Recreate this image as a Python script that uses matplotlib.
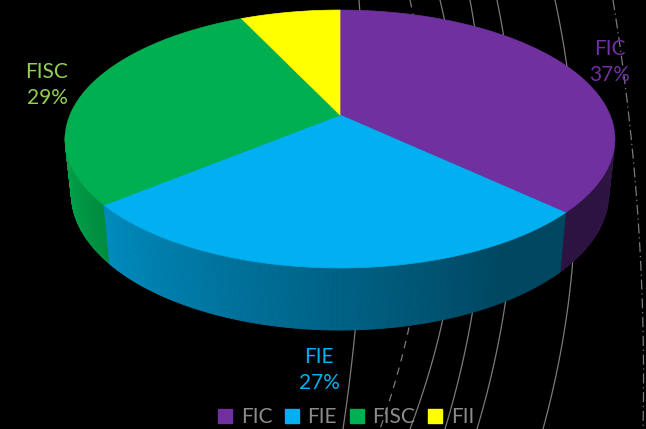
import numpy as np
import matplotlib
matplotlib.use('Agg')
import matplotlib.pyplot as plt
from matplotlib.collections import PolyCollection
from matplotlib.lines import Line2D

labels = ['FIC', 'FIE', 'FISC', 'FII']
values = [37, 27, 29, 7]
colors = ['#7030a0', '#00b0f0', '#00b050', '#ffff00']
label_colors = ['#7030a0', '#00b0f0', '#92d050', None]

plt.rcParams['font.family'] = ['Lato', 'DejaVu Sans']

# perspective set-up (pixel space)
cx, cy = 340, 115
elev = np.arcsin(0.461)
se, ce = np.sin(elev), np.cos(elev)
D, f, h = 4.77, 1288, 0.231

def proj(phi, y):
    x = np.sin(phi)
    z = np.cos(phi)
    xc = x
    yc = y * ce + z * se
    zc = -y * se + z * ce + D
    return cx + f * xc / zc, cy - f * yc / zc

fig = plt.figure(figsize=(6.46, 4.29), dpi=100, facecolor='black')
ax = fig.add_axes([0, 0, 1, 1])
ax.set_facecolor('black')
ax.set_xlim(0, 646)
ax.set_ylim(429, 0)
ax.axis('off')

# background decoration curves (top x, mid point, bottom x, style)
deco = [((359, 0), (355, 332), (343, 429), '-'),
        ((410, 0), (408, 332), (380, 429), (0, (6, 5))),
        ((440, 0), (442, 323), (410, 429), '-'),
        ((470, 0), (472, 315), (445, 429), '-'),
        ((497, 0), (505, 305), (477, 429), '-'),
        ((555, 0), (572, 270), (543, 429), '-'),
        ((613, 0), (640, 250), (643, 429), (0, (8, 3, 1, 3)))]
for p0, p1, p2, ls in deco:
    yy = np.array([p0[1], p1[1], p2[1]], float)
    xx = np.array([p0[0], p1[0], p2[0]], float)
    c = np.polyfit(yy, xx, 2)
    ys = np.linspace(0, 429, 100)
    ax.plot(np.polyval(c, ys), ys, color='#7a7a7a', lw=0.9, ls=ls, zorder=0)

fr = np.array(values) / sum(values)
edges = np.concatenate([[0], np.cumsum(fr)]) * 2 * np.pi

# side walls
quads, qcols, depth = [], [], []
for i in range(len(values)):
    phis = np.linspace(edges[i], edges[i + 1], 200)
    base = np.array(matplotlib.colors.to_rgb(colors[i]))
    for a, b in zip(phis[:-1], phis[1:]):
        m = 0.5 * (a + b)
        if np.cos(m) > -0.15:
            continue
        xa, ya = proj(a, 0)
        xb, yb = proj(b, 0)
        xb2, yb2 = proj(b, -h)
        xa2, ya2 = proj(a, -h)
        quads.append([(xa, ya), (xb, yb), (xb2, yb2), (xa2, ya2)])
        k = np.interp(np.degrees(m), [150, 250], [0.41, 0.9])
        qcols.append(tuple(base * k))
        depth.append(np.cos(m))
order = np.argsort(depth)[::-1]
quads = [quads[j] for j in order]
qcols = [qcols[j] for j in order]
ax.add_collection(PolyCollection(quads, facecolors=qcols, edgecolors=qcols, linewidths=0.6, zorder=2))

# top faces
for i in range(len(values)):
    phis = np.linspace(edges[i], edges[i + 1], 200)
    px, py = proj(phis, 0)
    pts = [(cx, cy)] + list(zip(px, py))
    ax.add_patch(plt.Polygon(pts, closed=True, facecolor=colors[i], edgecolor=colors[i], lw=0.5, zorder=3))

# data labels
label_pos = [(610, 62), (319, 370), (47, 85), None]
for i in range(len(values)):
    if label_pos[i] is None:
        continue
    ax.text(label_pos[i][0], label_pos[i][1], '%s\n%d%%' % (labels[i], values[i]),
            color=label_colors[i], fontsize=15, ha='center', va='center', linespacing=1.4, zorder=5)

handles = [Line2D([], [], marker='s', ls='', markersize=9.5, markerfacecolor=c, markeredgecolor=c) for c in colors]
leg = ax.legend(handles, labels, loc='lower center', bbox_to_anchor=(0.533, -0.04), ncol=4,
                frameon=False, fontsize=15, handletextpad=0.25, columnspacing=0.45, handlelength=1.0)
for t in leg.get_texts():
    t.set_color('#8c8c8c')

fig.savefig('out.png', dpi=100, facecolor='black')
